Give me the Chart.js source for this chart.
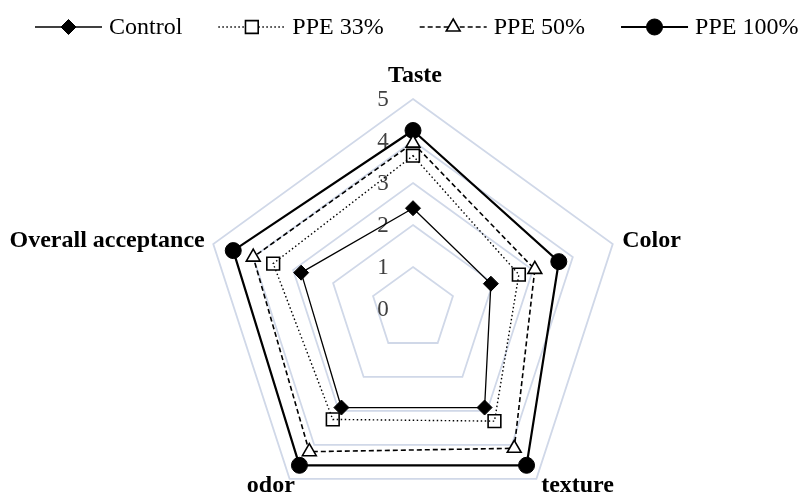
<!DOCTYPE html>
<html>
<head>
<meta charset="utf-8">
<script src="https://cdn.jsdelivr.net/npm/chart.js@4/dist/chart.umd.min.js"></script>
<style>
  html, body { margin: 0; padding: 0; background: #fff; overflow: hidden; }
  #wrap { width: 803px; height: 493px; position: relative; }
</style>
</head>
<body>
<div id="wrap"><canvas id="radarChart"></canvas></div>
<script>
// Sensory attributes (clockwise from top)
const categories = ['Taste', 'Color', 'texture', 'odor', 'Overall acceptance'];
const tickValues = [0, 1, 2, 3, 4, 5];

const controlScores = [2.4, 1.95, 2.9, 2.9, 2.8];
const ppe33Scores = [3.65, 2.65, 3.3, 3.25, 3.5];
const ppe50Scores = [3.95, 3.05, 4.1, 4.2, 4.0];
const ppe100Scores = [4.25, 3.65, 4.6, 4.6, 4.5];

const serif = '"Liberation Serif", "Times New Roman", serif';
const gridColor = '#d0d8e8';

// draw a marker for the custom legend
function drawMarker(ctx, style, x, y, r, fill) {
    ctx.beginPath();
    if (style === 'rectRot') {
        ctx.moveTo(x, y - r); ctx.lineTo(x + r, y); ctx.lineTo(x, y + r); ctx.lineTo(x - r, y);
        ctx.closePath();
    } else if (style === 'rect') {
        const s = r * Math.SQRT1_2;
        ctx.rect(x - s, y - s, 2 * s, 2 * s);
    } else if (style === 'triangle') {
        ctx.moveTo(x, y - r); ctx.lineTo(x + r * 0.866, y + r / 2); ctx.lineTo(x - r * 0.866, y + r / 2);
        ctx.closePath();
    } else {
        ctx.arc(x, y, r, 0, Math.PI * 2);
    }
    ctx.fillStyle = fill;
    ctx.fill();
    ctx.setLineDash([]);
    ctx.stroke();
}

const radarDecor = {
    id: 'radarDecor',
    beforeDatasetsDraw(chart) {
        const ctx = chart.ctx;
        const scale = chart.scales.r;
        ctx.save();
        ctx.font = '23px ' + serif;
        ctx.fillStyle = '#404040';
        ctx.textAlign = 'center';
        ctx.textBaseline = 'middle';
        tickValues.forEach(v => {
            const d = scale.getDistanceFromCenterForValue(v);
            ctx.fillText(String(v), scale.xCenter - 30, scale.yCenter - d + 1);
        });
        ctx.restore();
    },
    afterDraw(chart) {
        const ctx = chart.ctx;
        const scale = chart.scales.r;
        ctx.save();

        // axis labels
        ctx.font = 'bold 24px ' + serif;
        ctx.fillStyle = '#000';
        ctx.textBaseline = 'middle';
        const labelSetup = [
            { dist: 23, align: 'center', dx: 2, dy: 0 },
            { dist: 10, align: 'left', dx: 0, dy: 0 },
            { dist: 8, align: 'left', dx: 0, dy: 0 },
            { dist: 8, align: 'right', dx: 10, dy: 0 },
            { dist: 10, align: 'right', dx: 1, dy: 0 }
        ];
        categories.forEach((name, i) => {
            const s = labelSetup[i];
            const p = scale.getPointPosition(i, scale.drawingArea + s.dist);
            ctx.textAlign = s.align;
            ctx.fillText(name, p.x + s.dx, p.y + s.dy);
        });

        // legend: line with marker in the middle, then text
        ctx.font = '24px ' + serif;
        ctx.textAlign = 'left';
        let x = 35;
        const y = 27;
        const lineLen = 67;
        chart.data.datasets.forEach(ds => {
            ctx.strokeStyle = '#000';
            ctx.lineWidth = ds.borderWidth;
            ctx.setLineDash(ds.borderDash || []);
            ctx.beginPath();
            ctx.moveTo(x, y);
            ctx.lineTo(x + lineLen, y);
            ctx.stroke();
            ctx.lineWidth = ds.pointBorderWidth;
            const fill = ds.pointBackgroundColor === 'transparent' ? '#fff' : ds.pointBackgroundColor;
            drawMarker(ctx, ds.pointStyle, x + lineLen / 2, y, ds.legendRadius, fill);
            ctx.fillStyle = '#000';
            ctx.fillText(ds.label, x + lineLen + 7, y + 1);
            x += lineLen + 7 + ctx.measureText(ds.label).width + 36;
        });
        ctx.restore();
    }
};

new Chart(document.getElementById('radarChart'), {
    type: 'radar',
    data: {
        labels: categories,
        datasets: [{
            label: 'Control',
            data: controlScores,
            borderColor: '#000',
            borderWidth: 1.3,
            pointStyle: 'rectRot',
            pointRadius: 7.5,
            legendRadius: 7.5,
            pointBackgroundColor: '#000',
            pointBorderColor: '#000',
            pointBorderWidth: 1,
            fill: false
        }, {
            label: 'PPE 33%',
            data: ppe33Scores,
            borderColor: '#000',
            borderWidth: 1.4,
            borderDash: [1.5, 2.5],
            pointStyle: 'rect',
            pointRadius: 9,
            legendRadius: 9,
            pointBackgroundColor: 'transparent',
            pointBorderColor: '#000',
            pointBorderWidth: 1.6,
            fill: false
        }, {
            label: 'PPE 50%',
            data: ppe50Scores,
            borderColor: '#000',
            borderWidth: 1.6,
            borderDash: [5, 3],
            pointStyle: 'triangle',
            pointRadius: 8,
            legendRadius: 8,
            pointBackgroundColor: '#fff',
            pointBorderColor: '#000',
            pointBorderWidth: 1.6,
            fill: false
        }, {
            label: 'PPE 100%',
            data: ppe100Scores,
            borderColor: '#000',
            borderWidth: 2.2,
            pointStyle: 'circle',
            pointRadius: 8,
            legendRadius: 8,
            pointBackgroundColor: '#000',
            pointBorderColor: '#000',
            pointBorderWidth: 1,
            fill: false
        }]
    },
    options: {
        responsive: true,
        maintainAspectRatio: false,
        animation: false,
        elements: { line: { tension: 0 } },
        plugins: {
            legend: { display: false },
            tooltip: { enabled: false }
        },
        scales: {
            r: {
                min: 0,
                max: 5,
                ticks: { stepSize: 1, display: false },
                grid: { color: gridColor, lineWidth: 1.8 },
                angleLines: { display: false },
                pointLabels: { display: false },
                afterFit: function(scale) {
                    // place the web where it sits in the original figure
                    scale.xCenter = 413;
                    scale.yCenter = 309;
                    scale.drawingArea = 210;
                }
            }
        }
    },
    plugins: [radarDecor]
});
</script>
</body>
</html>
